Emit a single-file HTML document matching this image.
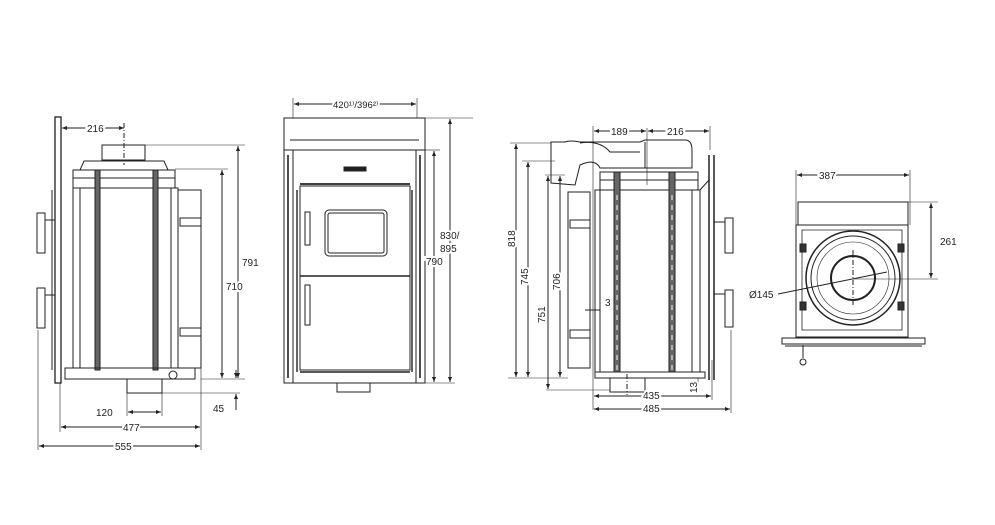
<!DOCTYPE html>
<html><head><meta charset="utf-8"><style>
html,body{margin:0;padding:0;background:#fff;}
svg{display:block;font-family:"Liberation Sans",sans-serif;}
text{font-size:10px;fill:#222;stroke:#fff;stroke-width:4px;paint-order:stroke;}
</style></head><body>
<svg width="995" height="525" viewBox="0 0 995 525" xmlns="http://www.w3.org/2000/svg">
<defs>
<marker id="a" viewBox="0 0 10 10" refX="10" refY="5" markerWidth="7" markerHeight="5" orient="auto-start-reverse"><path d="M0,1 L10,5 L0,9 z" fill="#222"/></marker>
</defs>
<g stroke="#222" fill="none" stroke-width="1">
<!-- VIEW 1 -->
<rect x="55" y="117" width="6" height="266" fill="#fff" stroke-width="1.3"/>
<rect x="102" y="145" width="43" height="15"/>
<path d="M80,170 L84,161 L164,161 L168,170"/>
<rect x="73" y="170" width="102" height="18"/>
<line x1="73" y1="178" x2="175" y2="178"/>
<rect x="73" y="188" width="105" height="180"/>
<line x1="80" y1="188" x2="80" y2="368"/><line x1="171" y1="188" x2="171" y2="368"/>
<rect x="95" y="170" width="5" height="200" fill="#666"/>
<rect x="153" y="170" width="5" height="200" fill="#666"/>
<rect x="178" y="190" width="23" height="178"/>
<rect x="180" y="218" width="21" height="8"/><rect x="180" y="328" width="21" height="8"/>
<rect x="65" y="368" width="130" height="11"/>
<circle cx="173" cy="375" r="4"/>
<rect x="37" y="213" width="8" height="40"/><line x1="45" y1="220" x2="55" y2="220"/>
<rect x="37" y="288" width="8" height="40"/><line x1="45" y1="295" x2="55" y2="295"/>
<line x1="52" y1="190" x2="52" y2="370"/>
<rect x="127" y="379" width="35" height="14"/>
<line x1="124" y1="123" x2="124" y2="165" stroke-dasharray="5,2,1,2"/>
<line x1="62" y1="128" x2="124" y2="128" marker-start="url(#a)" marker-end="url(#a)"/>
<line x1="145" y1="145" x2="245" y2="145" stroke-width="0.6"/>
<line x1="175" y1="169" x2="228" y2="169" stroke-width="0.6"/>
<line x1="201" y1="379" x2="245" y2="379" stroke-width="0.6"/>
<line x1="162" y1="393" x2="240" y2="393" stroke-width="0.6"/>
<line x1="238" y1="146" x2="238" y2="378" marker-start="url(#a)" marker-end="url(#a)"/>
<line x1="222" y1="170" x2="222" y2="378" marker-start="url(#a)" marker-end="url(#a)"/>
<line x1="236" y1="370" x2="236" y2="378" marker-end="url(#a)"/>
<line x1="236" y1="410" x2="236" y2="394" marker-end="url(#a)"/>
<line x1="127" y1="393" x2="127" y2="416" stroke-width="0.6"/><line x1="162" y1="393" x2="162" y2="416" stroke-width="0.6"/>
<line x1="128" y1="412" x2="161" y2="412" marker-start="url(#a)" marker-end="url(#a)"/>
<line x1="60" y1="383" x2="60" y2="432" stroke-width="0.6"/><line x1="201" y1="368" x2="201" y2="450" stroke-width="0.6"/>
<line x1="38" y1="330" x2="38" y2="450" stroke-width="0.6"/>
<line x1="61" y1="427" x2="200" y2="427" marker-start="url(#a)" marker-end="url(#a)"/>
<line x1="39" y1="446" x2="200" y2="446" marker-start="url(#a)" marker-end="url(#a)"/>

<!-- VIEW 2 -->
<rect x="284" y="118" width="141" height="32"/>
<line x1="290" y1="140" x2="419" y2="140"/>
<rect x="284" y="150" width="141" height="233"/>
<rect x="293" y="150" width="123" height="233"/>
<rect x="300" y="186" width="110" height="184"/>
<line x1="300" y1="276" x2="410" y2="276" stroke-width="1.5"/>
<line x1="300" y1="184" x2="410" y2="184" stroke-width="1.8"/>
<rect x="325" y="210" width="62" height="46" rx="4"/>
<rect x="328" y="213" width="56" height="40" rx="2"/>
<rect x="305" y="212" width="5" height="33"/>
<rect x="305" y="285" width="5" height="40"/>
<line x1="288" y1="155" x2="288" y2="378" stroke-width="1.6"/>
<line x1="420" y1="155" x2="420" y2="378" stroke-width="1.6"/>
<line x1="297" y1="190" x2="297" y2="372" stroke-width="1.4"/>
<line x1="412" y1="190" x2="412" y2="372" stroke-width="1.4"/>
<line x1="300" y1="372" x2="410" y2="372" stroke-width="1.5"/>
<rect x="337" y="383" width="33" height="9"/>
<rect x="344" y="167" width="22" height="4" fill="#222"/>
<line x1="293" y1="98" x2="293" y2="118" stroke-width="0.6"/><line x1="417" y1="98" x2="417" y2="118" stroke-width="0.6"/>
<line x1="294" y1="104" x2="416" y2="104" marker-start="url(#a)" marker-end="url(#a)"/>
<line x1="425" y1="118" x2="473" y2="118" stroke-width="0.6"/>
<line x1="425" y1="150" x2="440" y2="150" stroke-width="0.6"/>
<line x1="425" y1="383" x2="455" y2="383" stroke-width="0.6"/>
<line x1="434" y1="151" x2="434" y2="382" marker-start="url(#a)" marker-end="url(#a)"/>
<line x1="450" y1="119" x2="450" y2="382" marker-start="url(#a)" marker-end="url(#a)"/>

<!-- VIEW 3 -->
<path d="M551,142 L565,142 Q570,140 580,142 L640,142 L645,140 L685,140 Q692,140 692,150 L692,168 L600,168 Q595,158 580,165 L575,185 L551,183 Z" fill="#fff"/>
<path d="M580,143 Q600,140 610,152 L640,152"/>
<line x1="645" y1="142" x2="645" y2="168"/>
<rect x="600" y="172" width="98" height="18"/>
<line x1="600" y1="180" x2="698" y2="180"/>
<rect x="595" y="190" width="105" height="182"/>
<line x1="600" y1="190" x2="600" y2="372"/><line x1="692" y1="190" x2="692" y2="372"/>
<rect x="614" y="172" width="6" height="200" fill="#666"/>
<rect x="669" y="172" width="6" height="200" fill="#666"/>
<line x1="617" y1="195" x2="617" y2="370" stroke="#fff" stroke-dasharray="5,5"/>
<line x1="672" y1="195" x2="672" y2="370" stroke="#fff" stroke-dasharray="5,5"/>
<rect x="568" y="192" width="22" height="176"/>
<rect x="570" y="220" width="20" height="8"/><rect x="570" y="330" width="20" height="8"/>
<line x1="709" y1="155" x2="709" y2="380" stroke-width="1.5"/><line x1="714" y1="155" x2="714" y2="380" stroke-width="1.5"/>
<line x1="700" y1="190" x2="709" y2="180"/>
<rect x="725" y="218" width="8" height="35"/><line x1="714" y1="222" x2="725" y2="222"/>
<rect x="725" y="290" width="8" height="37"/><line x1="714" y1="294" x2="725" y2="294"/>
<rect x="595" y="372" width="110" height="6"/>
<rect x="610" y="378" width="35" height="14"/>
<line x1="627" y1="374" x2="627" y2="395" stroke-dasharray="5,2,1,2"/>
<line x1="593" y1="126" x2="593" y2="410" stroke-width="0.6"/>
<line x1="647" y1="128" x2="647" y2="185" stroke-width="0.6"/>
<line x1="710" y1="126" x2="710" y2="150" stroke-width="0.6"/>
<line x1="594" y1="131" x2="646" y2="131" marker-start="url(#a)" marker-end="url(#a)"/>
<line x1="648" y1="131" x2="709" y2="131" marker-start="url(#a)" marker-end="url(#a)"/>
<line x1="510" y1="143" x2="551" y2="143" stroke-width="0.6"/>
<line x1="522" y1="161" x2="555" y2="161" stroke-width="0.6"/>
<line x1="545" y1="175" x2="565" y2="175" stroke-width="0.6"/>
<line x1="508" y1="378" x2="568" y2="378" stroke-width="0.6"/>
<line x1="546" y1="390" x2="610" y2="390" stroke-width="0.6"/>
<line x1="516" y1="144" x2="516" y2="377" marker-start="url(#a)" marker-end="url(#a)"/>
<line x1="528" y1="162" x2="528" y2="377" marker-start="url(#a)" marker-end="url(#a)"/>
<line x1="548" y1="176" x2="548" y2="389" marker-start="url(#a)" marker-end="url(#a)"/>
<line x1="560" y1="176" x2="560" y2="377" marker-start="url(#a)" marker-end="url(#a)"/>
<line x1="585" y1="310" x2="600" y2="310"/>
<line x1="712" y1="360" x2="712" y2="400" stroke-width="0.6"/><line x1="731" y1="330" x2="731" y2="413" stroke-width="0.6"/>
<line x1="594" y1="396" x2="711" y2="396" marker-start="url(#a)" marker-end="url(#a)"/>
<line x1="594" y1="409" x2="730" y2="409" marker-start="url(#a)" marker-end="url(#a)"/>
<line x1="698" y1="378" x2="698" y2="388" stroke-width="0.6"/>

<!-- VIEW 4 -->
<line x1="796" y1="170" x2="796" y2="225" stroke-width="0.6"/><line x1="910" y1="170" x2="910" y2="225" stroke-width="0.6"/>
<line x1="797" y1="175" x2="909" y2="175" marker-start="url(#a)" marker-end="url(#a)"/>
<rect x="798" y="202" width="110" height="23"/>
<rect x="796" y="225" width="112" height="112"/>
<path d="M802,230 L902,230 L902,330 L802,330 Z" stroke-width="0.8"/>
<circle cx="853" cy="278" r="47" stroke-width="1.5"/>
<circle cx="853" cy="278" r="42"/>
<circle cx="853" cy="278" r="36" stroke-width="0.6"/>
<circle cx="853" cy="278" r="22" stroke-width="2"/>
<rect x="800" y="244" width="6" height="8" fill="#333"/><rect x="898" y="244" width="6" height="8" fill="#333"/>
<rect x="800" y="302" width="6" height="8" fill="#333"/><rect x="898" y="302" width="6" height="8" fill="#333"/>
<rect x="782" y="338" width="143" height="6"/>
<line x1="785" y1="346" x2="922" y2="346"/>
<line x1="803" y1="345" x2="803" y2="358"/><circle cx="803" cy="362" r="3"/>
<line x1="908" y1="202" x2="938" y2="202" stroke-width="0.6"/>
<line x1="853" y1="279" x2="938" y2="279" stroke-width="0.6"/>
<line x1="931" y1="203" x2="931" y2="278" marker-start="url(#a)" marker-end="url(#a)"/>
<line x1="853" y1="250" x2="853" y2="306" stroke-dasharray="5,2,1,2"/>
<line x1="778" y1="294" x2="887" y2="272"/>
</g>
<g>
<text x="87" y="132">216</text>
<text x="242" y="266">791</text>
<text x="226" y="290">710</text>
<text x="213" y="412">45</text>
<text x="96" y="416">120</text>
<text x="123" y="431">477</text>
<text x="115" y="450">555</text>
<text x="333" y="108" style="font-size:9.5px">420¹⁾/396²⁾</text>
<text x="440" y="239">830/</text>
<text x="440" y="252">895</text>
<text x="426" y="265">790</text>
<text x="611" y="135">189</text>
<text x="667" y="135">216</text>
<text x="605" y="306">3</text>
<text x="643" y="399">435</text>
<text x="643" y="412">485</text>
<text x="819" y="179">387</text>
<text x="940" y="245">261</text>
<text x="749" y="298">Ø145</text>
<text transform="translate(515,247) rotate(-90)">818</text>
<text transform="translate(528,285) rotate(-90)">745</text>
<text transform="translate(545,323) rotate(-90)">751</text>
<text transform="translate(560,290) rotate(-90)">706</text>
<text transform="translate(697,393) rotate(-90)">13</text>
</g>
</svg>
</body></html>
